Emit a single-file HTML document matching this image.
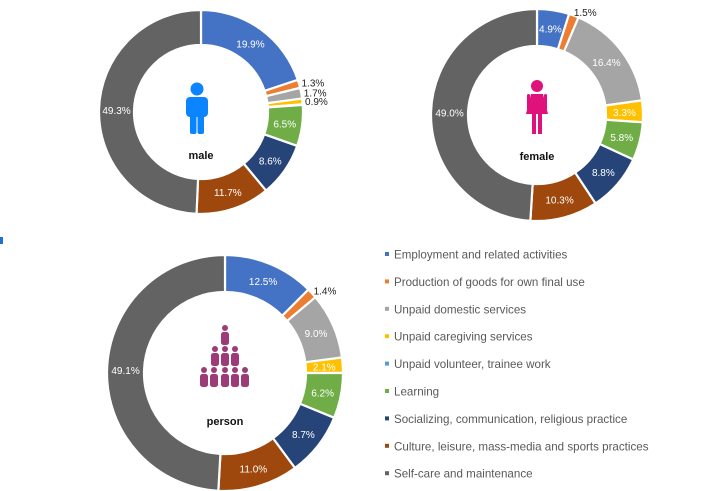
<!DOCTYPE html>
<html><head><meta charset="utf-8">
<style>
body{margin:0;background:#fff;width:714px;height:491px;overflow:hidden;font-family:"Liberation Sans",sans-serif;}
svg{position:absolute;left:0;top:0;}
</style></head>
<body>
<svg id="chart" width="714" height="491">
  <rect x="0" y="237" width="3" height="7" fill="#1f6fd6"/>
  <g id="donuts"></g>
  <g id="legend"></g>
  <g fill="#0a84ff">
    <circle cx="197" cy="89" r="6.5"/>
    <rect x="186" y="97" width="22" height="20" rx="4"/>
    <rect x="190" y="112" width="6.5" height="22" rx="2"/>
    <rect x="197.5" y="112" width="6.5" height="22" rx="2"/>
  </g>
  <g fill="#e0117a">
    <circle cx="537" cy="86" r="6"/>
    <path d="M531 94 h12 l5 20 h-22 z"/>
    <rect x="532" y="112" width="4" height="22"/>
    <rect x="538" y="112" width="4" height="22"/>
    <rect x="527" y="94" width="3" height="16" rx="1.5"/>
    <rect x="544" y="94" width="3" height="16" rx="1.5"/>
  </g>
  <g id="persons" fill="#9c3b78"></g>
</svg>
<script>
const categories=["Employment and related activities","Production of goods for own final use","Unpaid domestic services","Unpaid caregiving services","Unpaid volunteer, trainee work","Learning","Socializing, communication, religious practice","Culture, leisure, mass-media and sports practices","Self-care and maintenance"];
const colors=["#4472C4","#ED7D31","#A5A5A5","#FFC000","#5B9BD5","#70AD47","#264478","#9E480E","#636363"];
const maleValues=[19.9,1.3,1.7,0.9,0.1,6.5,8.6,11.7,49.3];
const femaleValues=[4.9,1.5,16.4,3.3,0,5.8,8.8,10.3,49.0];
const personValues=[12.5,1.4,9.0,2.1,0,6.2,8.7,11.0,49.1];
const NS="http://www.w3.org/2000/svg";
function mk(t,a,p){const e=document.createElementNS(NS,t);for(const k in a)e.setAttribute(k,a[k]);p.appendChild(e);return e;}
const donutsG=document.getElementById('donuts');
function donut(vals,cx,cy,ro,ri,title,name,titleY){
  const g=mk('g',{},donutsG);
  
  
  const total=vals.reduce((a,b)=>a+b,0);
  let a0=0;
  vals.forEach((v,i)=>{
    if(v<=0)return;
    const a1=a0+v/total*2*Math.PI;
    const p=(a,r)=>[cx+r*Math.sin(a),cy-r*Math.cos(a)];
    const [x1,y1]=p(a0,ro),[x2,y2]=p(a1,ro),[x3,y3]=p(a1,ri),[x4,y4]=p(a0,ri);
    const lg=(a1-a0)>Math.PI?1:0;
    const s=mk('path',{d:`M${x1},${y1}A${ro},${ro} 0 ${lg} 1 ${x2},${y2}L${x3},${y3}A${ri},${ri} 0 ${lg} 0 ${x4},${y4}Z`,fill:colors[i],stroke:'#fff','stroke-width':2.2},g);
    
    
    if(v>=0.5){
      const am=(a0+a1)/2;
      const small=v<2.0;
      const r=small?ro+4:(ro+ri)/2;
      const [lx,ly]=p(am,r);
      const t=mk('text',{x:lx+(small?10:0),y:ly+4,'text-anchor':'middle','font-size':10,fill:small?'#222':'#fff'},g);
      t.textContent=v.toFixed(1)+'%';
      
      
    }
    a0=a1;
  });
  const tt=mk('text',{x:cx,y:titleY,'text-anchor':'middle','font-size':11,'font-weight':'bold',fill:'#111'},g);
  tt.textContent=title;
  
  
}
donut(maleValues,201,112,102,67,'male','male-donut',159);
donut(femaleValues,537,115,106,69,'female','female-donut',160);
donut(personValues,225,373,118,81,'person','person-donut',425);
const lg=document.getElementById('legend');
categories.forEach((c,i)=>{
  const y=255+i*27.4;
  const r=mk('rect',{x:385,y:y-3,width:4,height:4,fill:colors[i]},lg);
  
  
  const t=mk('text',{x:394,y:y+3.5,'font-size':11.6,fill:'#595959'},lg);
  t.textContent=c;
  
  
});
const pg=document.getElementById('persons');
const rows=[[225],[215,225,235],[204,214,225,235,245]];
const rowY=[335,356,377];
rows.forEach((xs,ri)=>xs.forEach(x=>{
  const y=rowY[ri];
  const c=mk('circle',{cx:x,cy:y-7,r:3},pg);
  
  
  const b=mk('rect',{x:x-4,y:y-3,width:8,height:13,rx:2.5},pg);
  
  
}));
</script>
</body></html>
